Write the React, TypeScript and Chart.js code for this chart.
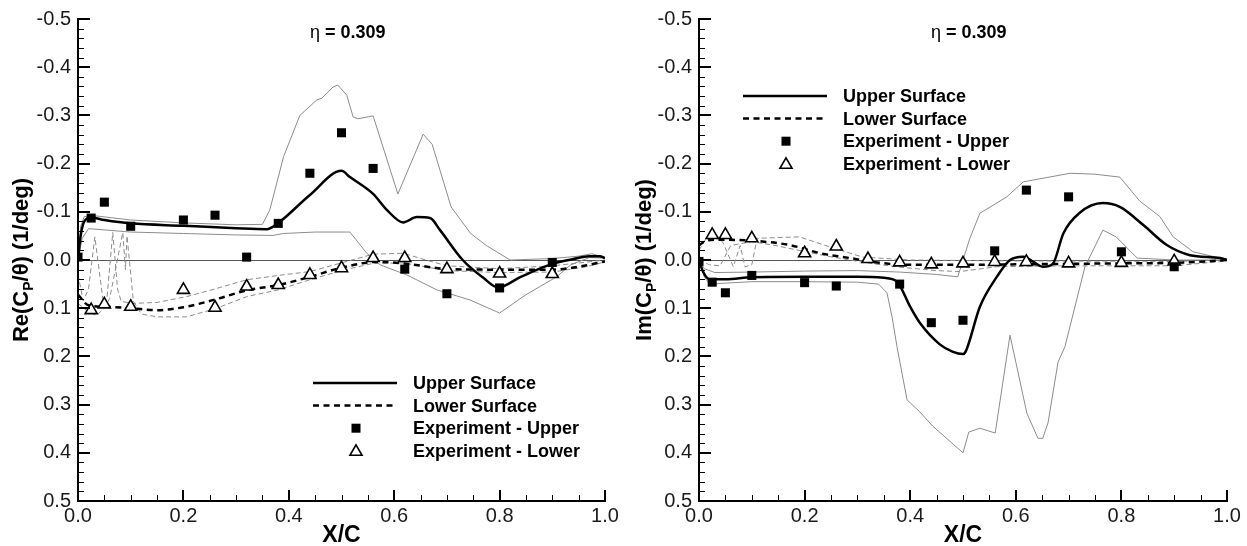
import { useEffect, useRef } from "react";
import { Chart, registerables } from "chart.js";

Chart.register(...registerables);

const FONT = '"Liberation Sans", Arial, Helvetica, sans-serif';

type Pt = [number, number];

// ---------- Re(Cp/theta) panel ----------
const reUpper: Pt[] = [
  [0, 0], [0.005, -0.05], [0.012, -0.08], [0.025, -0.088], [0.05, -0.083], [0.1, -0.076],
  [0.2, -0.071], [0.3, -0.066], [0.358, -0.064], [0.38, -0.077], [0.44, -0.135], [0.5, -0.185],
  [0.516, -0.172], [0.56, -0.137], [0.586, -0.104], [0.617, -0.078], [0.643, -0.089], [0.668, -0.087],
  [0.687, -0.062], [0.73, 0.0], [0.769, 0.037], [0.797, 0.057], [0.84, 0.035], [0.9, 0.008],
  [0.94, -0.002], [0.97, -0.008], [0.99, -0.008], [1.0, -0.004],
];
const reUpperMax: Pt[] = [
  [0, 0], [0.005, -0.07], [0.012, -0.09], [0.03, -0.092], [0.1, -0.083], [0.2, -0.077],
  [0.3, -0.073], [0.35, -0.074], [0.364, -0.104], [0.39, -0.214], [0.421, -0.3], [0.453, -0.332],
  [0.463, -0.336], [0.484, -0.359], [0.493, -0.363], [0.51, -0.342], [0.522, -0.297], [0.531, -0.293],
  [0.56, -0.299], [0.607, -0.137], [0.655, -0.261], [0.672, -0.24], [0.708, -0.11], [0.745, -0.055],
  [0.775, -0.03], [0.82, 0.0], [0.9, -0.003], [0.95, -0.008], [0.975, -0.013], [1.0, -0.005],
];
const reUpperMin: Pt[] = [
  [0, 0], [0.008, -0.045], [0.02, -0.065], [0.1, -0.058], [0.2, -0.055], [0.3, -0.052],
  [0.37, -0.051], [0.39, -0.055], [0.45, -0.058], [0.516, -0.058], [0.548, -0.014], [0.573, 0.01],
  [0.624, 0.031], [0.681, 0.062], [0.744, 0.083], [0.8, 0.11], [0.85, 0.072], [0.908, 0.035],
  [0.935, 0.01], [0.97, -0.005], [1.0, -0.004],
];
const reLower: Pt[] = [
  [0, 0.072], [0.02, 0.094], [0.05, 0.097], [0.1, 0.1], [0.15, 0.104], [0.2, 0.098], [0.26, 0.082],
  [0.32, 0.063], [0.38, 0.052], [0.44, 0.035], [0.5, 0.016], [0.567, 0.004], [0.617, 0.007],
  [0.706, 0.019], [0.8, 0.02], [0.9, 0.02], [0.96, 0.012], [1.0, 0.003],
];
const reLowerMin: Pt[] = [
  [0, 0.03], [0.01, 0.085], [0.02, 0.06], [0.032, -0.048], [0.047, 0.08], [0.055, 0.078],
  [0.066, -0.057], [0.075, 0.06], [0.082, 0.086], [0.105, 0.09], [0.15, 0.088], [0.206, 0.076],
  [0.26, 0.06], [0.32, 0.041], [0.38, 0.032], [0.44, 0.024], [0.5, 0.006], [0.56, -0.012],
  [0.617, -0.014], [0.66, 0.0], [0.7, 0.012], [0.8, 0.018], [0.9, 0.012], [0.96, 0.005], [1.0, 0.0],
];
const reLowerMax: Pt[] = [
  [0, 0.09], [0.02, 0.108], [0.035, 0.115], [0.05, 0.1], [0.06, 0.08], [0.085, -0.057],
  [0.09, 0.02], [0.093, -0.05], [0.105, 0.085], [0.12, 0.112], [0.15, 0.118], [0.206, 0.118],
  [0.263, 0.1], [0.32, 0.076], [0.38, 0.062], [0.44, 0.041], [0.5, 0.022], [0.56, 0.007],
  [0.617, 0.006], [0.7, 0.022], [0.8, 0.026], [0.9, 0.025], [0.96, 0.015], [1.0, 0.004],
];
const reExpUpperX = [0, 0.025, 0.05, 0.1, 0.2, 0.26, 0.32, 0.38, 0.44, 0.5, 0.56, 0.62, 0.7, 0.8, 0.9];
const reExpUpperY = [-0.006, -0.087, -0.12, -0.07, -0.083, -0.093, -0.006, -0.076, -0.18, -0.264, -0.19, 0.019, 0.07, 0.058, 0.005];
const reExpLowerX = [0.025, 0.05, 0.1, 0.2, 0.26, 0.32, 0.38, 0.44, 0.5, 0.56, 0.62, 0.7, 0.8, 0.9];
const reExpLowerY = [0.104, 0.092, 0.097, 0.062, 0.099, 0.055, 0.052, 0.031, 0.017, -0.004, -0.004, 0.019, 0.028, 0.029];

// ---------- Im(Cp/theta) panel ----------
const imUpper: Pt[] = [
  [0, 0], [0.008, 0.025], [0.02, 0.04], [0.05, 0.04], [0.1, 0.036], [0.2, 0.035], [0.3, 0.035],
  [0.35, 0.037], [0.375, 0.045], [0.4, 0.097], [0.42, 0.133], [0.456, 0.175], [0.48, 0.19],
  [0.5, 0.195], [0.505, 0.19], [0.532, 0.097], [0.564, 0.035], [0.589, 0.0], [0.614, -0.007],
  [0.635, 0.005], [0.651, 0.014], [0.67, 0.008], [0.69, -0.055], [0.72, -0.097], [0.765, -0.118],
  [0.797, -0.11], [0.841, -0.073], [0.886, -0.031], [0.93, -0.01], [0.987, -0.004], [1.0, 0.0],
];
const imUpperMax: Pt[] = [
  [0, 0], [0.01, 0.018], [0.03, 0.026], [0.1, 0.025], [0.2, 0.023], [0.3, 0.022], [0.38, 0.025],
  [0.45, 0.03], [0.49, 0.035], [0.5, 0.0], [0.513, -0.045], [0.532, -0.097], [0.583, -0.131],
  [0.614, -0.162], [0.703, -0.18], [0.75, -0.178], [0.797, -0.172], [0.835, -0.122], [0.873, -0.09],
  [0.898, -0.048], [0.936, -0.017], [0.987, -0.004], [1.0, 0.0],
];
const imUpperMin: Pt[] = [
  [0, 0], [0.01, 0.035], [0.02, 0.05], [0.05, 0.048], [0.1, 0.045], [0.2, 0.045], [0.3, 0.046],
  [0.34, 0.05], [0.356, 0.068], [0.366, 0.12], [0.375, 0.18], [0.394, 0.29], [0.418, 0.315],
  [0.443, 0.345], [0.5, 0.4], [0.511, 0.357], [0.532, 0.349], [0.561, 0.359], [0.589, 0.156],
  [0.621, 0.318], [0.642, 0.37], [0.651, 0.37], [0.661, 0.338], [0.68, 0.212], [0.693, 0.18],
  [0.731, 0.014], [0.765, -0.062], [0.79, -0.048], [0.83, -0.004], [0.9, 0.0], [1.0, 0.0],
];
const imLower: Pt[] = [
  [0, -0.03], [0.01, -0.038], [0.03, -0.042], [0.1, -0.04], [0.172, -0.031], [0.23, -0.014],
  [0.286, -0.004], [0.343, 0.006], [0.4, 0.01], [0.5, 0.01], [0.6, 0.009], [0.7, 0.008],
  [0.8, 0.007], [0.9, 0.006], [0.96, 0.003], [1.0, 0.0],
];
const imLowerMin: Pt[] = [
  [0, -0.02], [0.015, -0.048], [0.035, -0.05], [0.046, -0.035], [0.065, 0.014], [0.078, -0.03],
  [0.087, 0.014], [0.1, 0.01], [0.11, -0.045], [0.19, -0.048], [0.254, -0.025], [0.31, -0.006],
  [0.4, 0.0], [0.6, 0.002], [0.9, 0.003], [1.0, 0.0],
];
const imLowerMax: Pt[] = [
  [0, 0.0], [0.02, 0.01], [0.04, 0.012], [0.06, -0.03], [0.1, -0.038], [0.14, -0.031],
  [0.248, -0.007], [0.318, 0.006], [0.38, 0.015], [0.45, 0.022], [0.494, 0.024], [0.564, 0.014],
  [0.7, 0.012], [0.9, 0.012], [1.0, 0.002],
];
const imExpUpperX = [0, 0.025, 0.05, 0.1, 0.2, 0.26, 0.38, 0.44, 0.5, 0.56, 0.62, 0.7, 0.8, 0.9];
const imExpUpperY = [0.003, 0.046, 0.068, 0.032, 0.047, 0.054, 0.05, 0.13, 0.125, -0.019, -0.145, -0.131, -0.017, 0.014];
const imExpLowerX = [0.025, 0.05, 0.1, 0.2, 0.26, 0.32, 0.38, 0.44, 0.5, 0.56, 0.62, 0.7, 0.8, 0.9];
const imExpLowerY = [-0.052, -0.052, -0.045, -0.014, -0.028, -0.002, 0.005, 0.009, 0.007, 0.004, 0.004, 0.007, 0.006, 0.003];

const legendLabels = ["Upper Surface", "Lower Surface", "Experiment - Upper", "Experiment - Lower"];
const stationLabel = "0.309";
const xTitle = "X/C";

const toXY = (pts: Pt[]) => pts.map(([x, y]) => ({ x, y }));
const zipXY = (xs: number[], ys: number[]) => xs.map((x, i) => ({ x, y: ys[i] }));

type PanelCfg = {
  prefix: string;
  upper: Pt[]; upperMax: Pt[]; upperMin: Pt[];
  lower: Pt[]; lowerMin: Pt[]; lowerMax: Pt[];
  expUX: number[]; expUY: number[]; expLX: number[]; expLY: number[];
  legendDx: number; legendDy: number;
  left: number; width: number; axisLeft: number; padRight: number;
};

const panels: PanelCfg[] = [
  {
    prefix: "Re", upper: reUpper, upperMax: reUpperMax, upperMin: reUpperMin,
    lower: reLower, lowerMin: reLowerMin, lowerMax: reLowerMax,
    expUX: reExpUpperX, expUY: reExpUpperY, expLX: reExpLowerX, expLY: reExpLowerY,
    legendDx: 235, legendDy: 364, left: 0, width: 623, axisLeft: 78, padRight: 18,
  },
  {
    prefix: "Im", upper: imUpper, upperMax: imUpperMax, upperMin: imUpperMin,
    lower: imLower, lowerMin: imLowerMin, lowerMax: imLowerMax,
    expUX: imExpUpperX, expUY: imExpUpperY, expLX: imExpLowerX, expLY: imExpLowerY,
    legendDx: 44, legendDy: 77, left: 623, width: 624, axisLeft: 76, padRight: 20,
  },
];

const GRAY = "#8c8c8c";
const PLOT_TOP = 19;
const PLOT_BOTTOM = 501;

function drawSquare(ctx: CanvasRenderingContext2D, x: number, y: number) {
  ctx.fillStyle = "#000";
  ctx.fillRect(x - 4.5, y - 4.5, 9, 9);
}

function drawTriangle(ctx: CanvasRenderingContext2D, x: number, y: number) {
  const r = 7;
  ctx.beginPath();
  ctx.moveTo(x, y - r);
  ctx.lineTo(x + r * 0.866, y + r * 0.5);
  ctx.lineTo(x - r * 0.866, y + r * 0.5);
  ctx.closePath();
  ctx.fillStyle = "#fff";
  ctx.fill();
  ctx.strokeStyle = "#000";
  ctx.lineWidth = 1.6;
  ctx.stroke();
}

// left/bottom axis frame with inward major and minor tick marks
function drawFrame(chart: any) {
  const ctx: CanvasRenderingContext2D = chart.ctx;
  const area = chart.chartArea;
  const left = Math.round(area.left);
  const right = Math.round(area.right);
  const top = Math.round(area.top);
  const bottom = Math.round(area.bottom);
  const xs = chart.scales.x;
  const ys = chart.scales.y;
  ctx.save();
  ctx.fillStyle = "#000";
  ctx.fillRect(left - 1, top - 1, 2, bottom - top + 2);
  ctx.fillRect(left - 1, bottom - 1, right - left + 2, 2);
  for (let i = -25; i <= 25; i++) {
    const major = i % 5 === 0;
    const py = Math.round(ys.getPixelForValue(i / 50));
    if (major) ctx.fillRect(left, py - 1, 12, 2);
    else ctx.fillRect(left, py, 6, 1);
  }
  for (let i = 0; i <= 20; i++) {
    const major = i % 4 === 0;
    const px = Math.round(xs.getPixelForValue(i / 20));
    if (major) ctx.fillRect(px - 1, bottom - 11, 2, 11);
    else ctx.fillRect(px, bottom - 6, 1, 6);
  }
  ctx.restore();
}

function makeDecor(cfg: PanelCfg) {
  return {
    id: "panelDecor",
    beforeDatasetsDraw(chart: any) {
      const { ctx, chartArea } = chart;
      const y0 = chart.scales.y.getPixelForValue(0);
      ctx.save();
      ctx.fillStyle = "#555";
      ctx.fillRect(chartArea.left, Math.round(y0), chartArea.right - chartArea.left, 1);
      ctx.restore();
    },
    afterDraw(chart: any) {
      drawFrame(chart);
      const ctx: CanvasRenderingContext2D = chart.ctx;
      const area = chart.chartArea;
      const left = Math.round(area.left);
      const right = Math.round(area.right);
      const top = Math.round(area.top);
      const bottom = Math.round(area.bottom);
      ctx.save();

      // station title
      ctx.fillStyle = "#000";
      ctx.textBaseline = "alphabetic";
      ctx.textAlign = "left";
      const tx = left + 232;
      ctx.font = `18px ${FONT}`;
      ctx.fillText("η", tx, 38);
      const ew = ctx.measureText("η").width;
      ctx.font = `bold 18px ${FONT}`;
      ctx.fillText(" = " + stationLabel, tx + ew, 38);

      // x axis title
      ctx.font = `bold 23px ${FONT}`;
      ctx.textAlign = "center";
      ctx.fillText(xTitle, (left + right) / 2, 542);

      // y axis title, rotated, with subscript P
      const segs: [string, boolean][] = [
        [cfg.prefix + "(C", false],
        ["P", true],
        ["/θ) (1/deg)", false],
      ];
      ctx.save();
      ctx.translate(28, (top + bottom) / 2);
      ctx.rotate(-Math.PI / 2);
      ctx.textAlign = "left";
      let total = 0;
      const widths = segs.map(([t, sub]) => {
        ctx.font = `bold ${sub ? 14 : 22}px ${FONT}`;
        const w = ctx.measureText(t).width;
        total += w;
        return w;
      });
      let cx = -total / 2;
      segs.forEach(([t, sub], i) => {
        ctx.font = `bold ${sub ? 14 : 22}px ${FONT}`;
        ctx.fillText(t, cx, sub ? 5 : 0);
        cx += widths[i];
      });
      ctx.restore();

      // legend
      const lx = left + cfg.legendDx;
      const ly = top + cfg.legendDy;
      const step = 22.6;
      ctx.font = `bold 18px ${FONT}`;
      ctx.textAlign = "left";
      ctx.textBaseline = "middle";
      legendLabels.forEach((label, i) => {
        const y = ly + i * step;
        if (i === 0 || i === 1) {
          ctx.strokeStyle = "#000";
          ctx.lineWidth = 2.5;
          ctx.setLineDash(i === 1 ? [6, 4.5] : []);
          ctx.beginPath();
          ctx.moveTo(lx, y);
          ctx.lineTo(lx + 84, y);
          ctx.stroke();
          ctx.setLineDash([]);
        } else if (i === 2) {
          drawSquare(ctx, lx + 43, y);
        } else {
          drawTriangle(ctx, lx + 43, y + 1);
        }
        ctx.fillStyle = "#000";
        ctx.fillText(label, lx + 100, y + 1);
      });
      ctx.restore();
    },
  };
}

function Panel({ cfg }: { cfg: PanelCfg }) {
  const ref = useRef<HTMLCanvasElement | null>(null);
  useEffect(() => {
    if (!ref.current) return;
    const thin = (pts: Pt[], dashed: boolean) => ({
      data: toXY(pts),
      borderColor: GRAY,
      borderWidth: 1,
      borderDash: dashed ? [5, 3] : [],
      pointRadius: 0,
      tension: 0,
      order: 3,
    });
    const tickFmt = (v: any) => (Math.abs(Number(v)) < 1e-9 ? 0 : Number(v)).toFixed(1);
    const chart = new Chart(ref.current, {
      type: "line",
      data: {
        datasets: [
          thin(cfg.upperMax, false),
          thin(cfg.upperMin, false),
          thin(cfg.lowerMin, true),
          thin(cfg.lowerMax, true),
          {
            data: toXY(cfg.lower),
            borderColor: "#000",
            borderWidth: 2.5,
            borderDash: [6, 4.5],
            pointRadius: 0,
            cubicInterpolationMode: "monotone",
            order: 2,
          },
          {
            data: toXY(cfg.upper),
            borderColor: "#000",
            borderWidth: 2.5,
            pointRadius: 0,
            cubicInterpolationMode: "monotone",
            order: 2,
          },
          {
            data: zipXY(cfg.expLX, cfg.expLY),
            showLine: false,
            pointStyle: "triangle",
            pointRadius: 7,
            pointBackgroundColor: "#fff",
            pointBorderColor: "#000",
            pointBorderWidth: 1.6,
            order: 1,
          },
          {
            data: zipXY(cfg.expUX, cfg.expUY),
            showLine: false,
            pointStyle: "rect",
            pointRadius: 6.4,
            pointBackgroundColor: "#000",
            pointBorderColor: "#000",
            pointBorderWidth: 0,
            order: 0,
          },
        ] as any,
      },
      options: {
        responsive: false,
        maintainAspectRatio: false,
        animation: false,
        events: [],
        layout: { padding: { top: PLOT_TOP, right: cfg.padRight, left: 0, bottom: 0 } },
        plugins: { legend: { display: false }, tooltip: { enabled: false }, title: { display: false } },
        scales: {
          x: {
            type: "linear",
            min: 0,
            max: 1,
            grid: { display: false, drawTicks: false },
            border: { display: false },
            ticks: {
              stepSize: 0.2,
              padding: 3,
              color: "#1a1a1a",
              font: { family: FONT, size: 20 },
              callback: tickFmt,
            },
            afterFit: (s: any) => { s.height = 546 - PLOT_BOTTOM; },
          },
          y: {
            type: "linear",
            min: -0.5,
            max: 0.5,
            reverse: true,
            grid: { display: false, drawTicks: false },
            border: { display: false },
            ticks: {
              stepSize: 0.1,
              padding: 7,
              color: "#1a1a1a",
              font: { family: FONT, size: 20 },
              callback: tickFmt,
            },
            afterFit: (s: any) => { s.width = cfg.axisLeft; },
          },
        },
      } as any,
      plugins: [makeDecor(cfg)],
    });
    return () => chart.destroy();
  }, [cfg]);
  return (
    <canvas
      ref={ref}
      width={cfg.width}
      height={546}
      style={{ position: "absolute", left: cfg.left, top: 0, width: cfg.width, height: 546 }}
    />
  );
}

export default function App() {
  return (
    <div style={{ position: "absolute", left: 0, top: 0, width: 1247, height: 546, background: "#fff" }}>
      {panels.map((p) => (
        <Panel key={p.prefix} cfg={p} />
      ))}
    </div>
  );
}
